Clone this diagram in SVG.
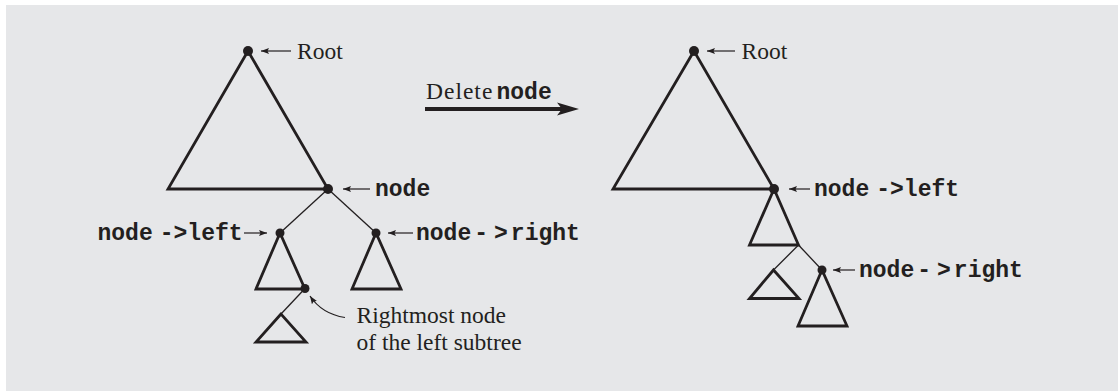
<svg xmlns="http://www.w3.org/2000/svg" width="1118" height="391" viewBox="0 0 1118 391">
<style>
.bg{fill:#e6e7e9}
.tri{fill:none;stroke:#231f20;stroke-width:2.8;stroke-linejoin:miter}
.dot{fill:#231f20}
.edge{stroke:#231f20;stroke-width:1.3;fill:none}
.ptr{stroke:#231f20;stroke-width:1.2;fill:none;marker-end:url(#ah)}
.serif{font-family:"Liberation Serif","Times New Roman",serif;font-size:23.5px;fill:#231f20}
.mono{font-family:"Liberation Mono","Courier New",monospace;font-size:23px;font-weight:bold;fill:#231f20}
</style>
<defs>
<marker id="ah" markerUnits="userSpaceOnUse" markerWidth="10" markerHeight="8" refX="8" refY="3" orient="auto">
<path d="M0,0 L8,3 L0,6 L1.5,3 z" fill="#231f20"/>
</marker>
</defs>
<rect x="0" y="0" width="1118" height="391" fill="#ffffff"/>
<rect class="bg" x="6" y="5" width="1112" height="386"/>

<g id="connectors">
<line class="edge" x1="328" y1="189" x2="280" y2="233"/>
<line class="edge" x1="328" y1="189" x2="376" y2="233"/>
<line class="edge" x1="305" y1="288.5" x2="281" y2="314"/>
<line class="edge" x1="798.5" y1="245" x2="773.5" y2="270"/>
<line class="edge" x1="798.5" y1="245" x2="822" y2="270"/>
<line class="ptr" x1="291" y1="51" x2="261" y2="51"/>
<line class="ptr" x1="370" y1="189" x2="343" y2="189"/>
<line class="ptr" x1="244" y1="233" x2="267" y2="233"/>
<line class="ptr" x1="413" y1="233" x2="388" y2="233"/>
<path class="ptr" d="M345,317.5 Q322,314 310,296"/>
<line class="ptr" x1="735" y1="51" x2="707" y2="51"/>
<line class="ptr" x1="810" y1="189" x2="789" y2="189"/>
<line class="ptr" x1="855" y1="270" x2="833" y2="270"/>
</g>

<g id="delete-arrow">
<line x1="425" y1="109" x2="565" y2="109" stroke="#231f20" stroke-width="4"/>
<path d="M579,109 L557,102.5 L562,109 L557,115.5 z" fill="#231f20"/>
<text class="serif" x="426" y="98.5"><tspan letter-spacing="1">Delete</tspan><tspan class="mono" x="496.5">node</tspan></text>
</g>

<g id="left-root">
<polygon class="tri" points="248,51 168,189 328,189"/>
<circle class="dot" cx="248" cy="51" r="5"/>
<text class="serif" x="297" y="59">Root</text>
</g>
<g id="left-node">
<circle class="dot" cx="328" cy="189" r="5"/>
<text class="mono" x="375" y="195.5">node</text>
</g>
<g id="left-node-left">
<polygon class="tri" points="280,233 256,289 305,289"/>
<circle class="dot" cx="280" cy="233" r="4.5"/>
<text class="mono" x="97.5" y="239.5">node<tspan dx="7">-&gt;left</tspan></text>
</g>
<g id="left-rightmost">
<circle class="dot" cx="305" cy="288.5" r="4.5"/>
<polygon class="tri" points="281,314 256,342 306,342"/>
<text class="serif" x="356.5" y="322.5">Rightmost node</text>
<text class="serif" x="356.5" y="350">of the left subtree</text>
</g>
<g id="left-node-right">
<polygon class="tri" points="376,233 352,289 401,289"/>
<circle class="dot" cx="376" cy="233" r="4.5"/>
<text class="mono" x="416" y="239.5">node<tspan dx="3">-</tspan><tspan dx="6">&gt;</tspan><tspan dx="3">right</tspan></text>
</g>

<g id="right-root">
<polygon class="tri" points="694,51 613,189 774,189"/>
<circle class="dot" cx="694" cy="51" r="5"/>
<text class="serif" x="741.5" y="59">Root</text>
</g>
<g id="right-node-left">
<polygon class="tri" points="774,189 749.5,245 798.5,245"/>
<circle class="dot" cx="774" cy="189" r="5"/>
<text class="mono" x="814" y="195.5">node<tspan dx="7">-&gt;left</tspan></text>
</g>
<g id="right-left-subtree">
<polygon class="tri" points="773.5,270 749.5,298.5 799,298.5"/>
</g>
<g id="right-node-right">
<polygon class="tri" points="822,270 798,326 847,326"/>
<circle class="dot" cx="822" cy="270" r="4.5"/>
<text class="mono" x="859" y="276.5">node<tspan dx="3">-</tspan><tspan dx="6">&gt;</tspan><tspan dx="3">right</tspan></text>
</g>
</svg>
